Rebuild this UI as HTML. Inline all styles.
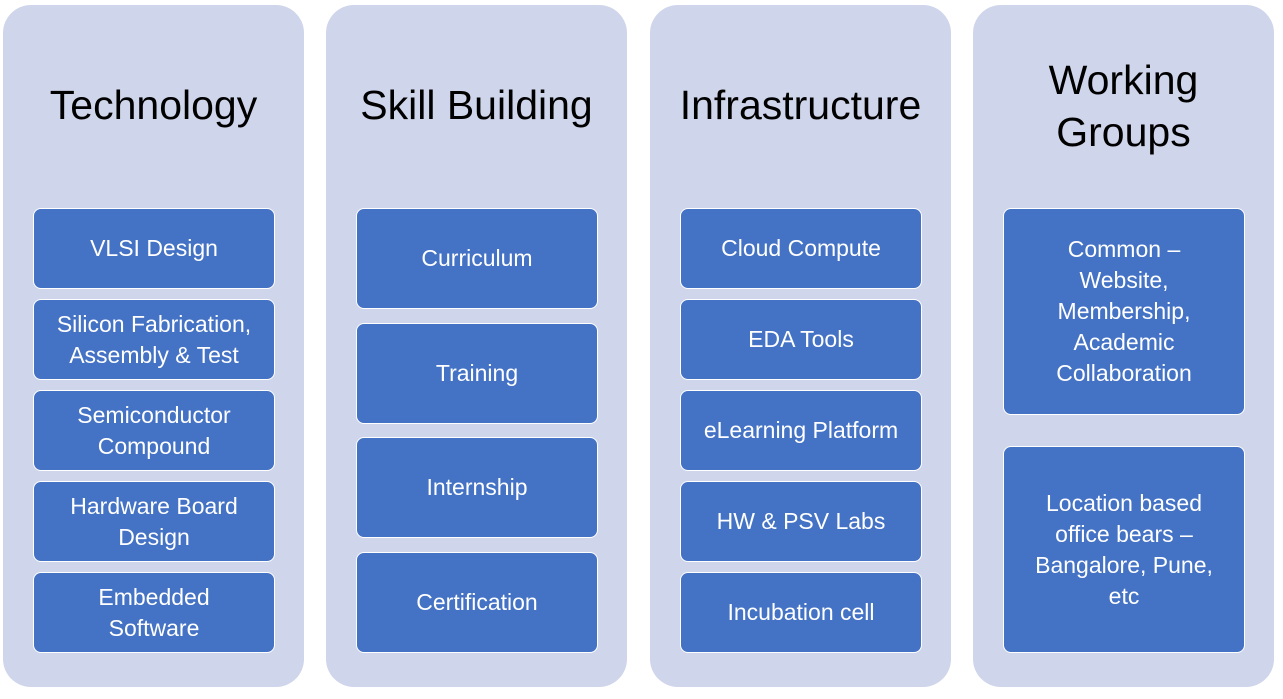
<!DOCTYPE html>
<html><head><style>
html,body{margin:0;padding:0;background:#fff;width:1283px;height:699px;overflow:hidden;font-family:"Liberation Sans",sans-serif;}
.col{position:absolute;top:5px;width:301px;height:682px;background:#CFD5EA;border-radius:28px;}
.title{position:absolute;left:0;width:100%;text-align:center;font-size:41px;color:#000;line-height:52px;}
.b{position:absolute;width:242px;background:#4472C4;border:1.5px solid #fff;border-radius:8px;color:#fff;font-size:23px;line-height:31px;display:flex;align-items:center;justify-content:center;text-align:center;box-sizing:border-box;}
</style></head><body>
<div class="col" style="left:3px"></div>
<div class="col" style="left:326px"></div>
<div class="col" style="left:650px"></div>
<div class="col" style="left:973px"></div>

<div class="title" style="left:3px;width:301px;top:79px">Technology</div>
<div class="title" style="left:326px;width:301px;top:79px">Skill Building</div>
<div class="title" style="left:650px;width:301px;top:79px">Infrastructure</div>
<div class="title" style="left:973px;width:301px;top:54px">Working<br>Groups</div>

<div class="b" style="left:33px;top:208px;height:81px">VLSI Design</div>
<div class="b" style="left:33px;top:299px;height:81px">Silicon Fabrication,<br>Assembly &amp; Test</div>
<div class="b" style="left:33px;top:390px;height:81px">Semiconductor<br>Compound</div>
<div class="b" style="left:33px;top:481px;height:81px">Hardware Board<br>Design</div>
<div class="b" style="left:33px;top:572px;height:81px">Embedded<br>Software</div>

<div class="b" style="left:356px;top:208px;height:101px">Curriculum</div>
<div class="b" style="left:356px;top:323px;height:101px">Training</div>
<div class="b" style="left:356px;top:437px;height:101px">Internship</div>
<div class="b" style="left:356px;top:552px;height:101px">Certification</div>

<div class="b" style="left:680px;top:208px;height:81px">Cloud Compute</div>
<div class="b" style="left:680px;top:299px;height:81px">EDA Tools</div>
<div class="b" style="left:680px;top:390px;height:81px">eLearning Platform</div>
<div class="b" style="left:680px;top:481px;height:81px">HW &amp; PSV Labs</div>
<div class="b" style="left:680px;top:572px;height:81px">Incubation cell</div>

<div class="b" style="left:1003px;top:208px;height:207px">Common –<br>Website,<br>Membership,<br>Academic<br>Collaboration</div>
<div class="b" style="left:1003px;top:446px;height:207px">Location based<br>office bears –<br>Bangalore, Pune,<br>etc</div>
</body></html>
